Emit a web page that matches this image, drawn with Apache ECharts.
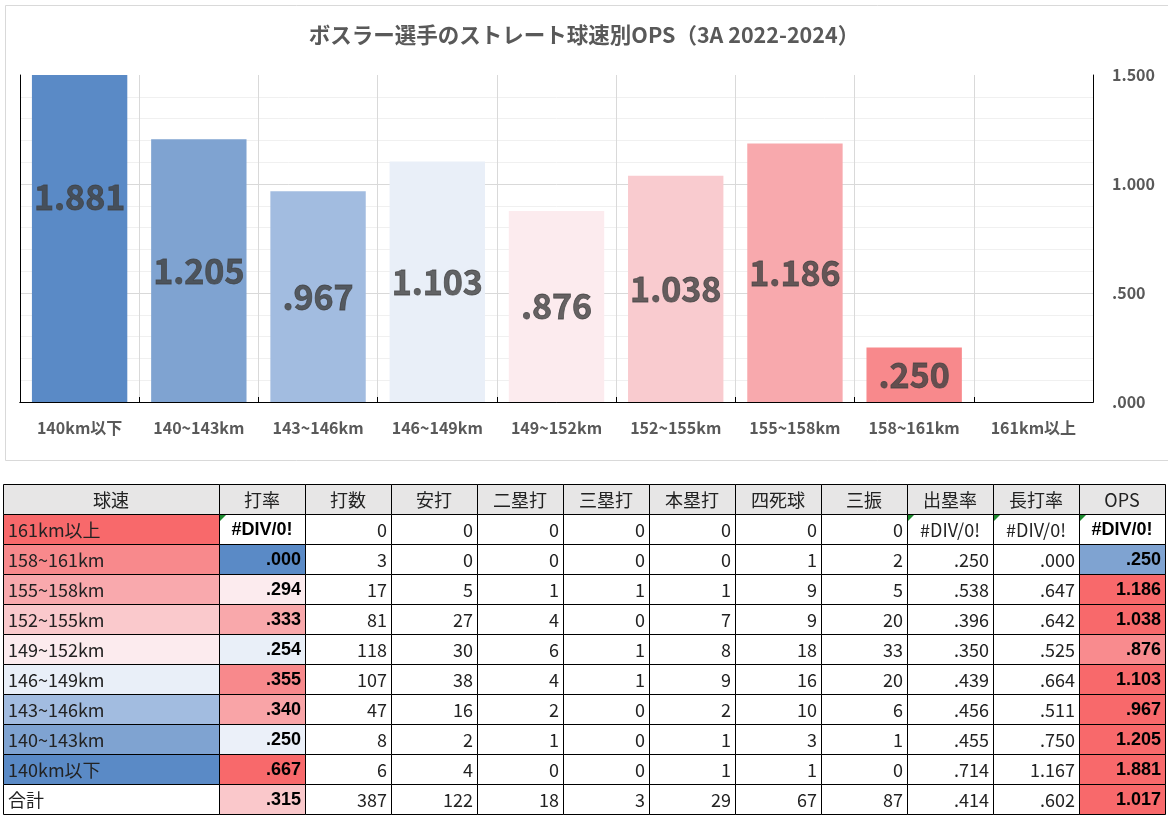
<!DOCTYPE html>
<html>
<head>
<meta charset="utf-8">
<script src="https://cdn.jsdelivr.net/npm/echarts@6/dist/echarts.min.js"></script>
<style>
html,body{margin:0;padding:0;background:#fff;}
#main{width:1168px;height:817px;}
</style>
</head>
<body>
<div id="main"></div>
<script>
// ---- chart data ----
const speeds = ['140km以下','140~143km','143~146km','146~149km','149~152km','152~155km','155~158km','158~161km','161km以上'];
const opsValues = [1.881, 1.205, 0.967, 1.103, 0.876, 1.038, 1.186, 0.250, null];
const yMin = 0, yMax = 1.5, yInterval = 0.5;

// ---- table data ----
const headers = ['球速','打率','打数','安打','二塁打','三塁打','本塁打','四死球','三振','出塁率','長打率','OPS'];
const tableRows = ['161km以上','158~161km','155~158km','152~155km','149~152km','146~149km','143~146km','140~143km','140km以下','合計'];
const avg = ['#DIV/0!','.000','.294','.333','.254','.355','.340','.250','.667','.315'];
const atBats = [0,3,17,81,118,107,47,8,6,387];
const hits = [0,0,5,27,30,38,16,2,4,122];
const doubles = [0,0,1,4,6,4,2,1,0,18];
const triples = [0,0,1,0,1,1,0,0,0,3];
const homeRuns = [0,0,1,7,8,9,2,1,1,29];
const walks = [0,1,9,9,18,16,10,3,1,67];
const strikeouts = [0,2,5,20,33,20,6,1,0,87];
const obp = ['#DIV/0!','.250','.538','.396','.350','.439','.456','.455','.714','.414'];
const slg = ['#DIV/0!','.000','.647','.642','.525','.664','.511','.750','1.167','.602'];
const opsTable = ['#DIV/0!','.250','1.186','1.038','.876','1.103','.967','1.205','1.881','1.017'];

// ---- styles ----
const barColors = ['#5a8ac6','#7fa3d1','#a2bce0','#e9eff8','#fcebee','#f9cbcf','#f8a9ad','#f8898c','#f8696b'];
const speedFill = ['#f8696b','#f8898c','#f9a9ad','#fac9cc','#fcebee','#e9eff8','#a2bce0','#7fa3d1','#5a8ac6','#ffffff'];
const avgFill = ['#ffffff','#5a8ac6','#fcebee','#f9a8ab','#e9eff8','#f8898c','#f9a4a7','#ebf0f9','#f8696b','#fac8cb'];
const opsFill = ['#ffffff','#7fa3d1','#f8696b','#f8696b','#f98b8e','#f8696b','#f8696b','#f8696b','#f8696b','#f8696b'];
const colWidths = [216,86,86,86,86,86,86,86,86,86,86,86];

function fmt(v){ return v.toFixed(3).replace(/^0/, ''); }

// build table cells
const colData = [tableRows, avg, atBats, hits, doubles, triples, homeRuns, walks, strikeouts, obp, slg, opsTable];
const colEdges = [0];
colWidths.forEach(w => colEdges.push(colEdges[colEdges.length-1] + w));
const totalW = colEdges[colEdges.length-1];
const cells = [];
for (let c = 0; c < headers.length; c++) {
  cells.push({x0: colEdges[c], x1: colEdges[c+1], row: 0, text: headers[c], fill: '#e7e6e6', align: 'center', bold: false, header: true});
  for (let r = 0; r < tableRows.length; r++) {
    const t = String(colData[c][r]);
    let fill = '#ffffff';
    if (c === 0) fill = speedFill[r];
    else if (c === 1) fill = avgFill[r];
    else if (c === 11) fill = opsFill[r];
    const isErr = t.charAt(0) === '#';
    cells.push({
      x0: colEdges[c], x1: colEdges[c+1], row: r + 1, text: t, fill: fill,
      align: c === 0 ? 'left' : (isErr ? 'center' : 'right'),
      bold: (c === 1 || c === 11), err: isErr
    });
  }
}
const rowIdx = [];
for (let i = 0; i <= tableRows.length; i++) rowIdx.push(String(i));

const chart = echarts.init(document.getElementById('main'));
const jp = '"Noto Sans CJK JP", "Noto Sans", sans-serif';
const option = {
  animation: false,
  backgroundColor: '#ffffff',
  title: {
    text: 'ボスラー選手のストレート球速別OPS（3A 2022-2024）',
    left: 'center', top: 19,
    textStyle: {fontSize: 21.5, fontWeight: 'bold', color: '#595959', fontFamily: jp}
  },
  graphic: [{
    type: 'rect', left: 3, top: 3, silent: true,
    shape: {width: 1163, height: 455},
    style: {fill: 'none', stroke: '#d9d9d9', lineWidth: 1}
  }],
  grid: [
    {left: 20, top: 75, width: 1073, height: 327},
    {left: 3, top: 484, width: 1162, height: 330}
  ],
  xAxis: [
    {
      type: 'category', gridIndex: 0, data: speeds, z: 1,
      axisLine: {lineStyle: {color: '#000', width: 1}},
      axisTick: {show: true, inside: true, length: 5, lineStyle: {color: '#000'}},
      axisLabel: {interval: 0, margin: 18, fontSize: 16, fontWeight: 'bold', color: '#595959', fontFamily: jp},
      splitLine: {show: true, interval: 0, showMinLine: false, showMaxLine: false, lineStyle: {color: '#d9d9d9'}}
    },
    {
      type: 'category', gridIndex: 0, position: 'top', data: speeds, z: 1,
      axisLine: {show: true, lineStyle: {color: '#000'}},
      axisTick: {show: false}, axisLabel: {show: false}, splitLine: {show: false}
    },
    {type: 'value', gridIndex: 1, min: 0, max: totalW, show: false}
  ],
  yAxis: [
    {
      type: 'value', gridIndex: 0, position: 'right', min: yMin, max: yMax, interval: yInterval, z: 1,
      axisLine: {show: true, lineStyle: {color: '#000'}},
      axisTick: {show: false},
      axisLabel: {margin: 19, fontSize: 16, fontWeight: 'bold', color: '#595959', fontFamily: jp, formatter: v => fmt(v)},
      splitLine: {show: true, showMinLine: false, showMaxLine: false, lineStyle: {color: '#d9d9d9'}},
      minorTick: {show: false, splitNumber: 5},
      minorSplitLine: {show: true, lineStyle: {color: '#f0f0f0'}}
    },
    {
      type: 'value', gridIndex: 0, position: 'left', min: yMin, max: yMax, interval: yInterval, z: 1,
      axisLine: {show: true, lineStyle: {color: '#000'}},
      axisTick: {show: false}, axisLabel: {show: false}, splitLine: {show: false}
    },
    {type: 'category', gridIndex: 1, data: rowIdx, inverse: true, show: false}
  ],
  series: [
    {
      type: 'bar', xAxisIndex: 0, yAxisIndex: 0, barCategoryGap: '20%', clip: true,
      data: opsValues.map((v, i) => ({value: v == null ? '-' : v, itemStyle: {color: barColors[i]}})),
      z: 2
    },
    {
      type: 'scatter', xAxisIndex: 0, yAxisIndex: 0, symbolSize: 1,
      itemStyle: {color: 'rgba(0,0,0,0)'},
      data: opsValues.map(v => v == null ? '-' : v / 2),
      label: {
        show: true, position: 'inside', fontSize: 34, fontWeight: 'bold', color: '#404040', fontFamily: jp,
        textBorderColor: '#404040', textBorderWidth: 0.8,
        formatter: p => opsValues[p.dataIndex] == null ? '' : fmt(opsValues[p.dataIndex])
      },
      z: 5
    },
    {
      type: 'custom', xAxisIndex: 2, yAxisIndex: 2, clip: false,
      data: cells.map(c => [c.x0, c.row]),
      renderItem: function (params, api) {
        const c = cells[params.dataIndex];
        const a = api.coord([c.x0, c.row]);
        const b = api.coord([c.x1, c.row]);
        const h = api.size([0, 1])[1];
        const xa = Math.round(a[0]), xb = Math.round(b[0]);
        const ya = Math.round(a[1] - h / 2), yb = Math.round(a[1] + h / 2);
        const children = [{
          type: 'rect',
          shape: {x: xa + 0.5, y: ya + 0.5, width: xb - xa, height: yb - ya},
          style: {fill: c.fill, stroke: '#000', lineWidth: 1}
        }];
        let tx = (xa + xb) / 2;
        if (c.align === 'left') tx = xa + 5;
        if (c.align === 'right') tx = xb - 4;
        children.push({
          type: 'text',
          style: {
            text: c.text, x: tx, y: (ya + yb) / 2 + 1, align: c.align, verticalAlign: 'middle',
            fill: c.bold ? '#000' : '#222',
            fontSize: 18,
            fontWeight: c.bold ? 'bold' : 'normal',
            fontFamily: c.bold ? '"Liberation Sans", Arial, sans-serif' : jp
          }
        });
        if (c.err && (c.x0 > 0)) {
          children.push({
            type: 'polygon',
            shape: {points: [[xa + 1, ya + 1], [xa + 7, ya + 1], [xa + 1, ya + 7]]},
            style: {fill: '#1d8a2e'}
          });
        }
        return {type: 'group', children: children};
      },
      z: 3
    }
  ]
};
chart.setOption(option);
</script>
</body>
</html>
